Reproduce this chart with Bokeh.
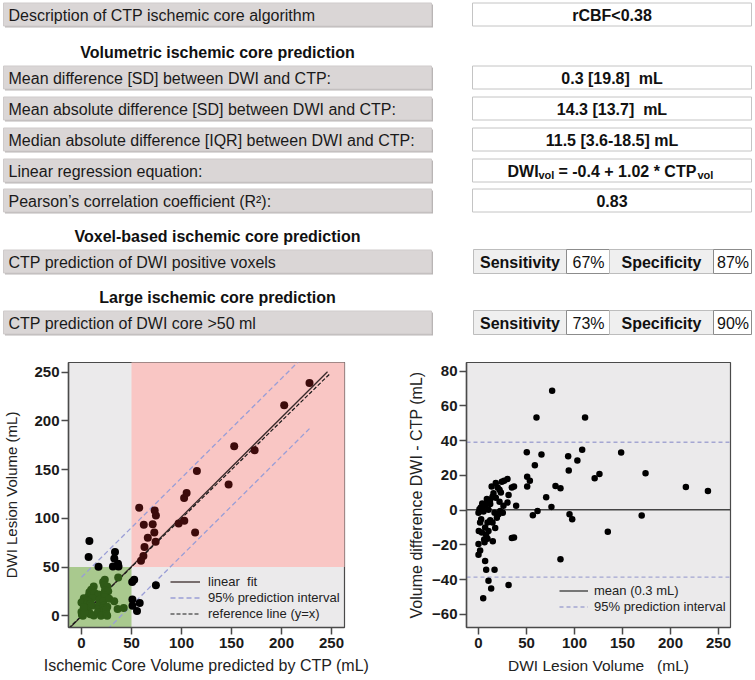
from bokeh.plotting import figure
from bokeh.models import Range1d, Legend, LegendItem, FixedTicker
from bokeh.layouts import column, row
from bokeh.embed import file_html
from bokeh.resources import INLINE
from bokeh.core.properties import value

FONT = "Liberation Sans"
NB = "\u00a0"

# ---------------- table content ----------------
algo_label = "Description of CTP ischemic core algorithm"
algo_value = "rCBF<0.38"
heading_vol = "Volumetric ischemic core prediction"
vol_labels = [
    "Mean difference [SD] between DWI and CTP:",
    "Mean absolute difference [SD] between DWI and CTP:",
    "Median absolute difference [IQR] between DWI and CTP:",
    "Linear regression equation:",
    "Pearson\u2019s correlation coefficient (R\u00b2):",
]
vol_values = ["0.3 [19.8]" + NB + " mL", "14.3 [13.7]" + NB + " mL", "11.5 [3.6-18.5] mL", None, "0.83"]
reg_intercept = -0.4
reg_slope = 1.02
heading_voxel = "Voxel-based ischemic core prediction"
voxel_label = "CTP prediction of DWI positive voxels"
voxel_sens, voxel_spec = "67%", "87%"
heading_large = "Large ischemic core prediction"
large_label = "CTP prediction of DWI core >50 ml"
large_sens, large_spec = "73%", "90%"

# ---------------- patient data (mL) ----------------
dwi = [76.7, 60.4, 111.0, 50.3, 65.6, 93.4, 108.0, 148.6, 58.7, 103.0,
       50.7, 53.5, 50.7, 94.0, 121.0, 126.0, 174.0, 216.0, 239.0, 80.2,
       85.4, 70.5, 76.0, 61.5, 56.6, 94.8, 97.6, 170.0, 134.7, 85.4,
       31.3, 34.7, 37.0, 39.2, 37.0, 34.7, 31.3, 30.2, 26.7, 24.3,
       18.0, 13.7, 20.0, 21.9, 23.3, 15.6, 30.2, 26.0, 21.9, 18.0,
       14.6, 12.2, 8.7, 12.2, 5.2, 3.9, 1.0, 0.0, 2.4, 7.3,
       10.4, 22.6, 25.3, 20.8, 16.7, 19.1, 5.2, 2.8, 1.7, 9.4,
       12.2, 14.6, 17.4, 6.9, 10.4, 0.3, 3.5, 8.0, 5.9, 9.4,
       14.9, 6.3, 0.0, 1.7, 0.0, 6.9, 8.0, 16.7, 10.4, 13.2,
       4.9, 3.5, 8.7]
ctp = [7.9, 7.1, 57.7, 17.0, 33.5, 62.3, 73.2, 115.4, 32.8, 74.4,
       31.4, 36.5, 37.0, 71.2, 102.6, 105.1, 152.7, 202.7, 228.0, 66.3,
       72.8, 63.0, 74.1, 61.9, 59.5, 97.1, 102.8, 173.1, 147.1, 113.6,
       74.4, 50.7, 52.7, 36.7, 23.3, 21.6, 22.6, 12.2, 9.7, 7.9,
       2.3, 0.0, 7.0, 10.1, 13.1, 5.9, 25.8, 23.5, 17.1, 10.9,
       6.9, 6.2, 4.3, 8.7, 2.1, 0.0, 0.4, 1.4, 0.9, 4.8,
       10.2, 23.0, 26.7, 23.1, 18.1, 23.4, 6.0, 8.0, 8.8, 16.5,
       18.0, 21.7, 27.6, 16.9, 22.4, 12.3, 16.4, 22.3, 22.7, 25.8,
       32.7, 24.7, 19.5, 24.9, 25.7, 36.1, 42.2, 50.9, 51.0, 58.2,
       55.5, 2.9, 2.3]
core_threshold = 50.0
mean_diff = 0.3
sd_diff = 19.8
pi_half = 40.0
ticks_vol = [0, 50, 100, 150, 200, 250]
ticks_diff = [-60, -40, -20, 0, 20, 40, 60, 80]

# ================= TOP TABLE =================
W = 755
H_TOP = 345
top = figure(width=W, height=H_TOP, x_range=Range1d(0, W), y_range=Range1d(H_TOP, 0),
             x_axis_type=None, y_axis_type=None, min_border=0, outline_line_color=None,
             output_backend="svg", toolbar_location=None)
top.grid.visible = False

LAB_L, LAB_R = 3, 431
VAL_L, VAL_R = 472, 751
BH = 11.5
row_y_algo = 14
row_y_vol = [77, 108, 139, 170, 200]
head_y = [52, 236, 297]
row_y_voxel = 261
row_y_large = 322


def label_box(text, cy):
    top.quad(left=[LAB_L + 1.5], right=[LAB_R + 1.5], top=[cy - BH + 1.5], bottom=[cy + BH + 1.5],
             fill_color="#b9b5b5", line_color=None)
    top.quad(left=[LAB_L], right=[LAB_R], top=[cy - BH], bottom=[cy + BH],
             fill_color="#dad6d6", line_color="#cfcbcb", line_width=1)
    top.text(x=[LAB_L + 5], y=[cy + 0.5], text=[text], text_font=value(FONT), text_font_size="16px",
             text_align="left", text_baseline="middle", text_color="#1a1a1a")


def value_box(cy):
    top.quad(left=[VAL_L], right=[VAL_R], top=[cy - BH], bottom=[cy + BH],
             fill_color="white", line_color="#c4c4c4", line_width=1)


def value_text(text, cy):
    top.text(x=[(VAL_L + VAL_R) / 2], y=[cy + 0.5], text=[text], text_font=value(FONT),
             text_font_size="16px", text_font_style="bold", text_align="center",
             text_baseline="middle", text_color="#111111")


def heading(text, cy):
    top.text(x=[217], y=[cy], text=[text], text_font=value(FONT), text_font_size="16px",
             text_font_style="bold", text_align="center", text_baseline="middle", text_color="#111111")


def sens_spec(sens, spec, cy):
    cells = [(473, 566, "#efefef", "#bdbdbd"), (566, 609, "white", "#8c8c8c"),
             (609, 713, "#efefef", "#bdbdbd"), (713, 751, "white", "#8c8c8c")]
    for l, r, f, lc in cells:
        top.quad(left=[l], right=[r], top=[cy - 12], bottom=[cy + 12], fill_color=f,
                 line_color=lc, line_width=1)
    top.text(x=[519.5, 661], y=[cy + 0.5, cy + 0.5], text=["Sensitivity", "Specificity"],
             text_font=value(FONT), text_font_size="16px", text_font_style="bold",
             text_align="center", text_baseline="middle", text_color="#111111")
    top.text(x=[588, 732.5], y=[cy + 0.5, cy + 0.5], text=[sens, spec],
             text_font=value(FONT), text_font_size="16px", text_align="center",
             text_baseline="middle", text_color="#111111")


label_box(algo_label, row_y_algo)
value_box(row_y_algo)
value_text(algo_value, row_y_algo)
heading(heading_vol, head_y[0])
for lab, val, cy in zip(vol_labels, vol_values, row_y_vol):
    label_box(lab, cy)
    value_box(cy)
    if val is not None:
        value_text(val, cy)

# regression equation with subscripts
cy = row_y_vol[3]
eq_main = "= %s + %s * CTP" % (reg_intercept, reg_slope)
x0 = 507
pieces = [("DWI", 16, 0, 31), ("vol", 11, 4, 20), (eq_main, 16, 0, 139), ("vol", 11, 4, 16)]
for txt, fs, dy, wdt in pieces:
    top.text(x=[x0], y=[cy + 0.5 + dy], text=[txt], text_font=value(FONT), text_font_size="%dpx" % fs,
             text_font_style="bold", text_align="left", text_baseline="middle", text_color="#111111")
    x0 += wdt

heading(heading_voxel, head_y[1])
label_box(voxel_label, row_y_voxel)
sens_spec(voxel_sens, voxel_spec, row_y_voxel)
heading(heading_large, head_y[2])
label_box(large_label, row_y_large)
sens_spec(large_sens, large_spec, row_y_large)

# ================= SCATTER PLOTS =================
H_BOT = 335
AX_COL = "#4a4a4a"


def style(p):
    p.grid.visible = False
    for ax in p.axis:
        ax.axis_line_color = AX_COL
        ax.axis_line_width = 1.5
        ax.major_tick_line_color = AX_COL
        ax.major_tick_line_width = 1.5
        ax.major_tick_in = 0
        ax.major_tick_out = 7
        ax.minor_tick_line_color = None
        ax.major_label_text_font = FONT
        ax.major_label_text_font_size = "15px"
        ax.major_label_text_font_style = "bold"
        ax.major_label_text_color = "#1a1a1a"
        ax.axis_label_text_font = FONT
        ax.axis_label_text_font_style = "normal"
        ax.axis_label_text_color = "#222222"
    p.xaxis.major_label_standoff = 3
    p.yaxis.major_label_standoff = 2


# ---- left: DWI vs CTP ----
left = figure(width=378, height=H_BOT, x_range=Range1d(-13, 263), y_range=Range1d(-12, 260),
              min_border_left=68, min_border_right=34, min_border_top=15, min_border_bottom=53,
              background_fill_color="#ebeaeb", border_fill_color="white",
              outline_line_color=AX_COL, outline_line_width=1.2,
              output_backend="svg", toolbar_location=None)
style(left)
left.xaxis.ticker = FixedTicker(ticks=ticks_vol)
left.yaxis.ticker = FixedTicker(ticks=ticks_vol)
left.xaxis.axis_label = "Ischemic Core Volume predicted by CTP (mL)"
left.yaxis.axis_label = "DWI Lesion Volume (mL)"
left.xaxis.axis_label_text_font_size = "16px"
left.yaxis.axis_label_text_font_size = "15px"
left.xaxis.axis_label_standoff = 6
left.yaxis.axis_label_standoff = 11

left.quad(left=[core_threshold], right=[1000], bottom=[core_threshold], top=[1000],
          fill_color="#f9c6c4", line_color=None)
left.quad(left=[-1000], right=[core_threshold], bottom=[-1000], top=[core_threshold],
          fill_color="#a9c98e", line_color=None)

fit_x = [-13, 246]
fit_y = [reg_intercept + reg_slope * v for v in fit_x]
ref_x = [-13, 248]
up_x = [0, 232]
lo_x = [26, 228]
r_fit = left.line(fit_x, fit_y, line_color="#3a2a2a", line_width=1.3)
r_pi = left.line(up_x, [reg_intercept + reg_slope * v + pi_half for v in up_x],
                 line_color="#9a9ed6", line_width=1.3, line_dash="5 3")
left.line(lo_x, [reg_intercept + reg_slope * v - pi_half for v in lo_x],
          line_color="#9a9ed6", line_width=1.3, line_dash="5 3")
r_ref = left.line(ref_x, ref_x, line_color="#1a1a1a", line_width=1.2, line_dash="4 2")

cols = []
for c, d in zip(ctp, dwi):
    if c < core_threshold and d < core_threshold:
        cols.append("#2f5a17")
    elif c >= core_threshold and d >= core_threshold:
        cols.append("#3d0b0b")
    else:
        cols.append("#000000")
left.scatter(ctp, dwi, size=8, fill_color=cols, line_color=None)

leg_l = Legend(items=[LegendItem(label="linear  fit", renderers=[r_fit]),
                      LegendItem(label="95% prediction interval", renderers=[r_pi]),
                      LegendItem(label="reference line (y=x)", renderers=[r_ref])],
               location=(102, 6), background_fill_alpha=0, border_line_alpha=0,
               padding=0, margin=0, spacing=1, label_height=15, glyph_height=15,
               glyph_width=30, label_standoff=8, label_text_font=FONT,
               label_text_font_size="13px", label_text_color="#222222")
left.add_layout(leg_l)

# ---- right: Bland-Altman ----
diff = [d - c for d, c in zip(dwi, ctp)]
right = figure(width=377, height=H_BOT, x_range=Range1d(-12.5, 262.5), y_range=Range1d(-67.5, 85),
               min_border_left=88, min_border_right=25, min_border_top=17, min_border_bottom=53,
               background_fill_color="#ebeaeb", border_fill_color="white",
               outline_line_color=AX_COL, outline_line_width=1.2,
               output_backend="svg", toolbar_location=None)
style(right)
right.xaxis.ticker = FixedTicker(ticks=ticks_vol)
right.yaxis.ticker = FixedTicker(ticks=ticks_diff)
right.xaxis.axis_label = "DWI Lesion Volume" + NB + NB + " (mL)"
right.yaxis.axis_label = "Volume difference DWI - CTP (mL)"
right.xaxis.axis_label_text_font_size = "15.5px"
right.yaxis.axis_label_text_font_size = "16px"
right.xaxis.axis_label_standoff = 6
right.yaxis.axis_label_standoff = 4

span_x = [-100, 400]
r_mean = right.line(span_x, [mean_diff, mean_diff], line_color="#444444", line_width=1.4)
r_pi2 = right.line(span_x, [mean_diff + 1.96 * sd_diff] * 2, line_color="#a4a6d2",
                   line_width=1.3, line_dash="4 3")
right.line(span_x, [mean_diff - 1.96 * sd_diff] * 2, line_color="#a4a6d2",
           line_width=1.3, line_dash="4 3")
right.scatter(dwi, diff, size=6.5, fill_color="#000000", line_color=None)

leg_r = Legend(items=[LegendItem(label="mean (0.3 mL)", renderers=[r_mean]),
                      LegendItem(label="95% prediction interval", renderers=[r_pi2])],
               location=(93, 13), background_fill_alpha=0, border_line_alpha=0,
               padding=0, margin=0, spacing=1, label_height=15, glyph_height=15,
               glyph_width=29, label_standoff=6, label_text_font=FONT,
               label_text_font_size="13px", label_text_color="#222222")
right.add_layout(leg_r)

layout = column(top, row(left, right))
open("out.html", "w").write(file_html(layout, INLINE))
